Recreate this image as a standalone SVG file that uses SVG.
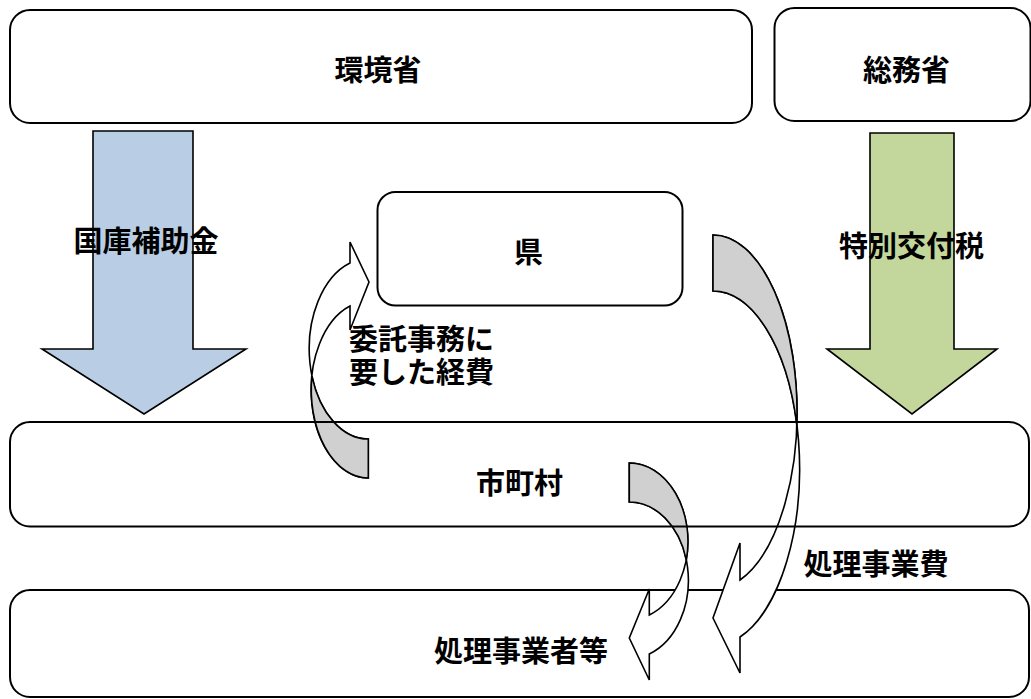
<svg xmlns="http://www.w3.org/2000/svg" width="1031" height="699" viewBox="0 0 1031 699">
<style>
.box{fill:#ffffff;stroke:#000;stroke-width:2}
.boxo{fill:none;stroke:#000;stroke-width:2}
.t{font-family:"Noto Sans CJK JP","Noto Sans CJK SC",sans-serif;font-weight:bold;font-size:29px;fill:#000;text-anchor:middle}
.tl{text-anchor:start}
.arr{stroke:#000;stroke-width:1.6;stroke-linejoin:miter}
.front{fill:#ffffff}
.back{fill:#d0d0d0}
</style>
<rect width="1031" height="699" fill="#ffffff"/>
<g id="node-kankyo">
<rect class="box" x="10" y="10" width="742" height="113" rx="20"/>
<text class="t" x="378" y="81">環境省</text>
</g>
<g id="node-somu">
<rect class="box" x="774.5" y="8" width="256" height="113" rx="20"/>
<text class="t" x="906.5" y="81">総務省</text>
</g>
<g id="node-ken">
<rect class="box" x="377.5" y="192" width="305" height="113.5" rx="18"/>
<text class="t" x="528.5" y="263">県</text>
</g>
<g id="node-jigyosha">
<rect class="box" x="10" y="590" width="1019" height="107" rx="20"/>
<text class="t" x="521" y="662">処理事業者等</text>
</g>
<g id="connectors">
<polygon class="arr" fill="#b9cde5" points="93,131 193,131 193,349 246,349 144,414 42,349 93,349"/>
<polygon class="arr" fill="#c3d69b" points="870,133 954,133 954,349 997,349 912,414 827,349 870,349"/>
<!-- 市町村 -> 県 -->
<path class="arr front" d="M368.3,478 A57,88.3 0 0 1 350,306 L350,330 L369,282 L350,242 L350,263 A59,90.2 0 0 0 368.3,439 Z"/>
<path class="arr back" d="M368.3,478 A57,88.3 0 0 1 311.95,376 A59,90.2 0 0 0 368.3,439 Z"/>
<!-- 県 -> 処理事業者等 -->
<path class="arr front" d="M713,235 A84,177.2 0 0 1 740,580 L740,543 L713,618 L740,673 L740,637 A86.5,177.4 0 0 0 713,291 Z"/>
<path class="arr back" d="M713,235 A84,177.2 0 0 1 796.8,425 A86.5,177.4 0 0 0 713,291 Z"/>
<!-- 市町村 -> 処理事業者等 -->
<path class="arr front" d="M629.3,463 A58.7,78.4 0 0 1 649.3,615 L649.3,589 L629.3,638 L649.3,680 L649.3,654 A59,78.3 0 0 0 629.3,502 Z"/>
<path class="arr back" d="M629.3,463 A58.7,78.4 0 0 1 686.3,560 A59,78.3 0 0 0 629.3,502 Z"/>
<text class="t" x="146" y="252">国庫補助金</text>
<text class="t" x="911.5" y="257">特別交付税</text>
<text class="t tl" x="349" y="350"><tspan x="349" y="350">委託事務に</tspan><tspan x="349" y="383">要した経費</tspan></text>
<text class="t" x="876" y="575">処理事業費</text>
</g>
<g id="node-shichoson">
<rect class="boxo" x="10" y="422" width="1019" height="104.5" rx="20"/>
<text class="t" x="519.5" y="494">市町村</text>
</g>
</svg>
